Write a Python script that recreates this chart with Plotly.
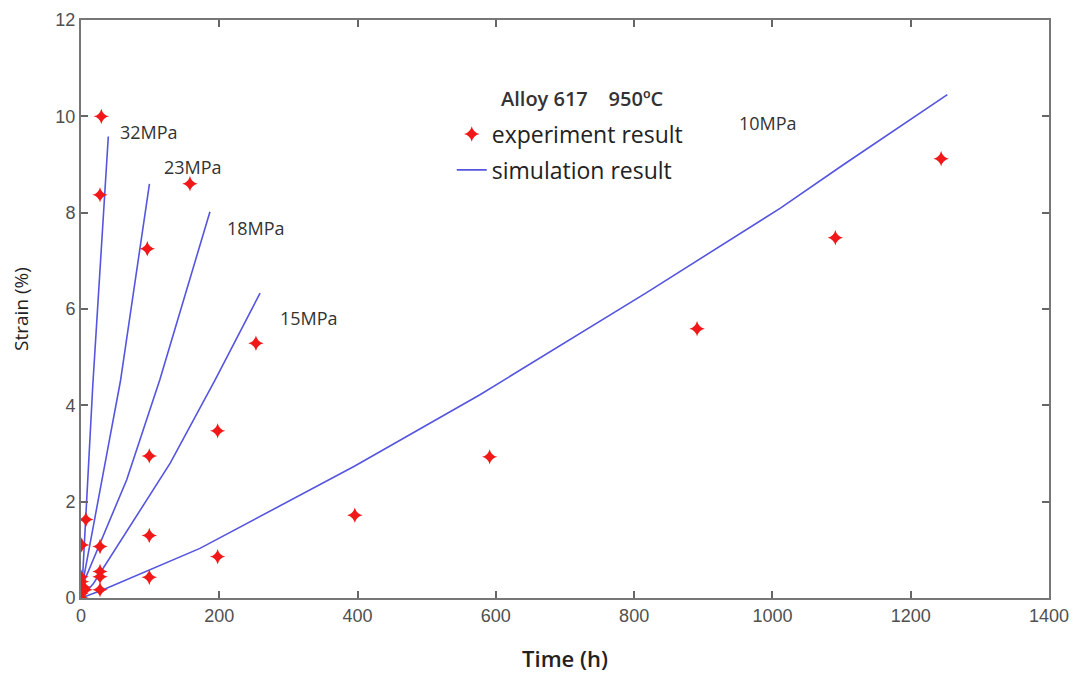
import plotly.graph_objects as go

# ---- simulation curves (time h, strain %) ----
sim_32_t = [0, 2, 17, 30, 39.5]
sim_32_e = [0, 0.35, 4.4, 7.44, 9.58]
sim_23_t = [0, 3, 42, 57, 99]
sim_23_e = [0, 0.35, 3.35, 4.5, 8.6]
sim_18_t = [0, 4, 66, 114, 186.5]
sim_18_e = [0, 0.33, 2.45, 4.53, 8.02]
sim_15_t = [0, 18, 129, 194, 259]
sim_15_e = [0, 0.3, 2.8, 4.53, 6.33]
sim_10_t = [0, 32, 172, 259, 396, 577, 818, 1011, 1102, 1253]
sim_10_e = [0, 0.17, 1.03, 1.69, 2.74, 4.22, 6.34, 8.09, 8.99, 10.45]

# ---- experiment points ----
exp_t = [0, 0, 3.4, 1, 0, 5.8, 1, 7, 27.5, 27.5, 27.5, 27.5, 27.5, 29.4,
         95.9, 98.8, 98.8, 98.8, 157.6, 197.6, 197.6, 253, 396, 591, 891, 1091, 1244]
exp_e = [0.0, 0.1, 0.23, 0.34, 0.44, 0.17, 1.10, 1.63, 0.17, 0.44, 0.55, 1.07, 8.37, 10.0,
         7.25, 2.95, 1.30, 0.43, 8.6, 3.47, 0.86, 5.29, 1.72, 2.93, 5.59, 7.48, 9.12]

# ---- labels ----
stress_labels = ["32MPa", "23MPa", "18MPa", "15MPa", "10MPa"]
label_t = [98.8, 162.4, 253, 330, 993]
label_e = [9.68, 8.94, 7.68, 5.82, 9.86]

line_color = "#5555e0"
fig = go.Figure()
sims = [(sim_32_t, sim_32_e), (sim_23_t, sim_23_e), (sim_18_t, sim_18_e),
        (sim_15_t, sim_15_e), (sim_10_t, sim_10_e)]
for i, (t, e) in enumerate(sims):
    fig.add_trace(go.Scatter(
        x=t, y=e, mode="lines", line=dict(color=line_color, width=1.6),
        name="simulation result", legendgroup="sim", showlegend=(i == 0),
        legendrank=2))

fig.add_trace(go.Scatter(
    x=exp_t, y=exp_e, mode="markers", name="experiment result",
    marker=dict(symbol="star-diamond", size=11, color="#f01818",
                line=dict(width=0)),
    legendgroup="exp", legendrank=1))

for s, t, e in zip(stress_labels, label_t, label_e):
    fig.add_annotation(x=t, y=e, text=s, showarrow=False,
                       font=dict(family="Open Sans", size=18, color="#333333"))

fig.add_annotation(x=724, y=10.38, text="Alloy 617    950ºC", showarrow=False,
                   font=dict(family="Open Sans", size=20, color="#333333", weight=600))

axis_common = dict(showline=True, linecolor="#777777", linewidth=2, mirror="ticks",
                   ticks="inside", ticklen=7, tickcolor="#666666", tickwidth=1.5,
                   showgrid=False, zeroline=False, automargin=False,
                   tickfont=dict(family="Liberation Sans", size=18, color="#505050"))

fig.update_xaxes(range=[0, 1400], tick0=0, dtick=200,
                 title=dict(text="Time (h)", standoff=27,
                            font=dict(family="Open Sans", size=22, color="#222222", weight=600)),
                 **axis_common)
fig.update_yaxes(range=[0, 12], tick0=0, dtick=2,
                 title=dict(text="Strain (%)", standoff=22,
                            font=dict(family="Open Sans", size=19, color="#222222")),
                 **axis_common)

fig.update_layout(
    width=1074, height=673, autosize=False,
    margin=dict(l=81, r=25, t=20, b=75),
    plot_bgcolor="white", paper_bgcolor="white",
    showlegend=True,
    legend=dict(x=0.383, y=0.84, xanchor="left", yanchor="top",
                bgcolor="rgba(0,0,0,0)", borderwidth=0, tracegroupgap=3,
                font=dict(family="Open Sans", size=23, color="#222222")),
)

fig.write_html("out.html", config={"displayModeBar": False},
               post_script="document.body.style.margin='0';document.body.style.overflow='hidden';")
